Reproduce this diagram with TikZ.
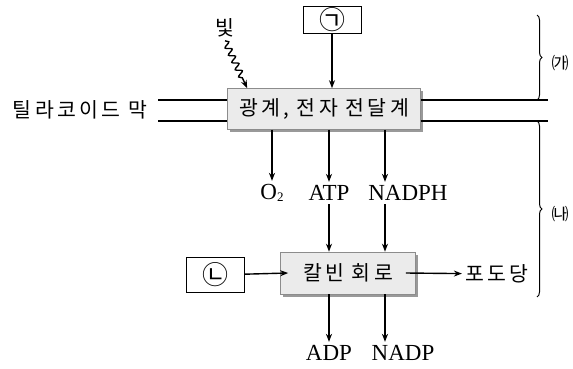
\documentclass[tikz,border=0pt]{standalone}
\usepackage{fontspec}
\setmainfont{Liberation Serif}
\newfontfamily\kr[LetterSpace=16]{Noto Sans CJK KR}
\usetikzlibrary{arrows.meta,positioning,shadows,decorations.pathmorphing,decorations.pathreplacing}
\definecolor{boxfill}{HTML}{EBEBEB}
\definecolor{boxedge}{HTML}{8C8C8C}

\begin{document}
\begin{tikzpicture}[x=1pt, y=-1pt,
  stage/.style={draw=boxedge, fill=boxfill, line width=0.6pt, inner sep=0pt,
    general shadow={fill=gray!80, shadow xshift=2.5pt, shadow yshift=-2.5pt}},
  tagbox/.style={draw, line width=0.8pt, minimum width=58pt, inner sep=0pt},
  flow/.style={-{Stealth[length=8pt,width=6pt]}, line width=1.4pt},
  kor/.style={font=\kr\fontsize{20.5}{24}\selectfont},
  chem/.style={font=\fontsize{23}{26}\selectfont},
  part/.style={font=\kr\fontsize{17}{17}\selectfont}]
  \useasboundingbox (0,0) rectangle (573,369);
  \node[stage, minimum width=193pt, minimum height=41pt, kor] (lightrxn) at (324,109) {광계, 전자 전달계};
  \node[stage, minimum width=135pt, minimum height=42pt, kor] (calvin) at (348,273) {칼빈 회로};
  \node[tagbox, minimum height=27pt] (tagA) at (332,20) {\kr\fontsize{26}{26}\selectfont ㉠};
  \node[tagbox, minimum height=35pt] (tagB) at (215,275) {\kr\fontsize{26}{26}\selectfont ㉡};
  \node[kor] (light) at (225,28) {빛};
  \node[chem] (o2) at (272,193) {O\raisebox{-2pt}{\fontsize{13}{13}\selectfont 2}};
  \node[chem] (atp) at (329,193) {ATP};
  \node[chem] (nadph) at (408,193) {NADPH};
  \node[chem] (adp) at (329,353) {ADP};
  \node[chem] (nadp) at (403,353) {NADP};
  \node[kor] (glucose) at (497,274) {포도당};
  \node[kor] (membrane) at (80,110) {틸라코이드 막};
  \node[part] (partA) at (560,63) {㈎};
  \node[part] (partB) at (560,214) {㈏};
  \coordinate (mtopL) at (158,100);
  \coordinate (mtopR) at (548,100);
  \coordinate (mbotL) at (158,121);
  \coordinate (mbotR) at (548,121);
  \coordinate (nadphcol) at (385,0);
  \coordinate (braceA) at (537,15);
  \coordinate (braceB) at (537,297);
  \draw[line width=1.5pt] (mtopL) -- (mtopL -| lightrxn.west) (lightrxn.east |- mtopR) -- (mtopR);
  \draw[line width=1.5pt] (mbotL) -- (mbotL -| lightrxn.west) (lightrxn.east |- mbotR) -- (mbotR);
  \draw[flow] (tagA) -- (lightrxn.north -| tagA);
  \draw[flow, decorate, decoration={snake, amplitude=3pt, segment length=8pt, post length=9pt}] (light.south) -- ([xshift=20pt]lightrxn.north west);
  \draw[flow] (lightrxn.south -| o2) -- (o2);
  \draw[flow] (lightrxn.south -| atp) -- (atp);
  \draw[flow] (lightrxn.south -| nadphcol) -- (nadphcol |- nadph.north);
  \draw[flow] (atp) -- (atp |- calvin.north);
  \draw[flow] (nadphcol |- nadph.south) -- (nadphcol |- calvin.north);
  \draw[flow] (calvin.south -| atp) -- (adp);
  \draw[flow] (calvin.south -| nadphcol) -- (nadphcol |- nadp.north);
  \draw[flow] (tagB) -- ([xshift=8pt]calvin.west);
  \draw[flow] ([xshift=-10pt]calvin.east) -- (glucose);
  \draw[line width=1pt, decorate, decoration={brace, amplitude=5pt}] (braceA) -- (braceA |- mtopR);
  \draw[line width=1pt, decorate, decoration={brace, amplitude=5pt}] (braceB |- mbotR) -- (braceB);
\end{tikzpicture}
\end{document}
